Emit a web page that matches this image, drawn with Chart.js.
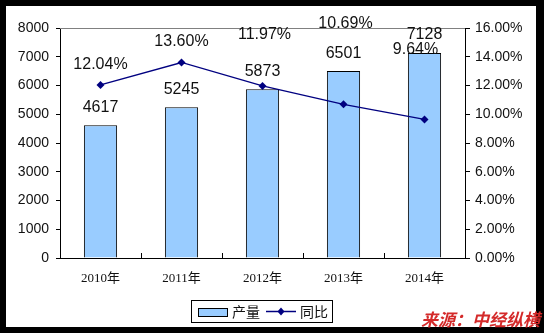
<!DOCTYPE html>
<html>
<head>
<meta charset="utf-8">
<script src="https://cdn.jsdelivr.net/npm/chart.js@4.4.1/dist/chart.umd.min.js"></script>
<style>
  html, body { margin: 0; padding: 0; background: #fff; }
  #wrap { width: 544px; height: 333px; }
</style>
</head>
<body>
<div id="wrap"><canvas id="chart" width="544" height="333"></canvas></div>
<script>
// datos
const anios = ["2010年", "2011年", "2012年", "2013年", "2014年"];
const produccion = [4617, 5245, 5873, 6501, 7128];
const tasa = [12.04, 13.60, 11.97, 10.69, 9.64];
const nombres = ["产量", "同比"];
const fuente = "来源：中经纵横";

const AZUL = "#99CCFF";
const MARINO = "#000080";

// desplazamiento de etiquetas del % (como en el original, movidas a mano)
const despPct = [[0, -20], [0, -21], [2, -51], [2, -81], [-9, -70]];

const pluginDibujo = {
  id: "dibujo",
  beforeDraw(chart) {
    const c = chart.ctx;
    c.save();
    c.fillStyle = "#000";
    c.fillRect(0, 0, 544, 333);
    c.fillStyle = "#fff";
    c.fillRect(6, 6, 530, 321);
    c.restore();
  },
  afterDraw(chart) {
    const c = chart.ctx;
    const a = chart.chartArea;
    c.save();

    // linea gris de arriba
    c.strokeStyle = "#808080";
    c.lineWidth = 1;
    c.beginPath();
    c.moveTo(a.left, Math.round(a.top) + 0.5);
    c.lineTo(a.right, Math.round(a.top) + 0.5);
    c.stroke();

    // marcas del eje x hacia adentro
    const sx = chart.scales.x;
    c.strokeStyle = "#000";
    c.beginPath();
    for (let i = 1; i < anios.length; i++) {
      const x = Math.round((sx.getPixelForTick(i - 1) + sx.getPixelForTick(i)) / 2) + 0.5;
      c.moveTo(x, a.bottom);
      c.lineTo(x, a.bottom - 5);
    }
    c.stroke();

    // etiquetas de barras
    c.font = "16px 'Liberation Sans', Arial, sans-serif";
    c.fillStyle = "#111";
    c.textAlign = "center";
    c.textBaseline = "middle";
    chart.getDatasetMeta(0).data.forEach((bar, i) => {
      c.fillText(String(produccion[i]), bar.x, bar.y - 18);
    });
    // etiquetas de la linea
    chart.getDatasetMeta(1).data.forEach((p, i) => {
      c.fillText(tasa[i].toFixed(2) + "%", p.x + despPct[i][0], p.y + despPct[i][1]);
    });

    // leyenda
    c.fillStyle = "#fff";
    c.fillRect(191, 300, 141, 22);
    c.strokeStyle = "#000";
    c.strokeRect(191.5, 300.5, 141, 22);
    c.fillStyle = AZUL;
    c.fillRect(198, 308, 29, 8);
    c.strokeRect(198.5, 308.5, 29, 8);
    c.font = "14px 'Noto Sans CJK SC', sans-serif";
    c.fillStyle = "#111";
    c.textAlign = "left";
    c.fillText(nombres[0], 232, 312);
    c.strokeStyle = MARINO;
    c.lineWidth = 1.5;
    c.beginPath();
    c.moveTo(266, 311.5);
    c.lineTo(296, 311.5);
    c.stroke();
    c.fillStyle = MARINO;
    c.beginPath();
    c.moveTo(281, 307.5);
    c.lineTo(284.5, 311.5);
    c.lineTo(281, 315.5);
    c.lineTo(277.5, 311.5);
    c.closePath();
    c.fill();
    c.fillStyle = "#111";
    c.fillText(nombres[1], 300, 312);

    // fuente
    c.font = "italic bold 17px 'Noto Sans CJK SC', sans-serif";
    c.fillStyle = "#D42A2A";
    c.textAlign = "right";
    c.fillText(fuente, 540, 320);
    c.restore();
  }
};

new Chart(document.getElementById("chart"), {
  type: "bar",
  data: {
    labels: anios,
    datasets: [{
      type: "bar",
      label: nombres[0],
      data: produccion,
      backgroundColor: AZUL,
      borderColor: "#000",
      borderWidth: 1,
      barPercentage: 0.41,
      categoryPercentage: 1,
      yAxisID: "y",
      order: 2
    }, {
      type: "line",
      label: nombres[1],
      data: tasa,
      borderColor: MARINO,
      backgroundColor: MARINO,
      borderWidth: 1.3,
      pointStyle: "rectRot",
      pointRadius: 4,
      pointBorderWidth: 0,
      tension: 0,
      yAxisID: "y1",
      order: 1
    }]
  },
  options: {
    responsive: false,
    animation: false,
    events: [],
    layout: { padding: { top: 28, left: 0, right: 0, bottom: 0 } },
    plugins: {
      legend: { display: false },
      tooltip: { enabled: false }
    },
    scales: {
      x: {
        offset: true,
        grid: { display: false },
        border: { display: true, color: "#000", width: 1 },
        ticks: {
          color: "#111",
          padding: 5,
          maxRotation: 0,
          font: { family: "'Liberation Serif', 'Noto Sans CJK SC', serif", size: 13 }
        },
        afterFit: s => { s.height = 75; }
      },
      y: {
        position: "left",
        min: 0, max: 8000,
        ticks: {
          stepSize: 1000,
          color: "#111",
          padding: 7,
          callback: v => String(v),
          font: { family: "'Liberation Sans', Arial, sans-serif", size: 14 }
        },
        grid: { display: true, drawOnChartArea: false, drawTicks: true, tickLength: 4, color: "#000" },
        border: { display: true, color: "#000", width: 1 },
        afterFit: s => { s.width = 60; }
      },
      y1: {
        position: "right",
        min: 0, max: 16,
        ticks: {
          stepSize: 2,
          color: "#111",
          padding: 5,
          callback: v => v.toFixed(2) + "%",
          font: { family: "'Liberation Sans', Arial, sans-serif", size: 14 }
        },
        grid: { display: true, drawOnChartArea: false, drawTicks: true, tickLength: 5, color: "#000" },
        border: { display: true, color: "#000", width: 1 },
        afterFit: s => { s.width = 79; }
      }
    }
  },
  plugins: [pluginDibujo]
});
</script>
</body>
</html>
